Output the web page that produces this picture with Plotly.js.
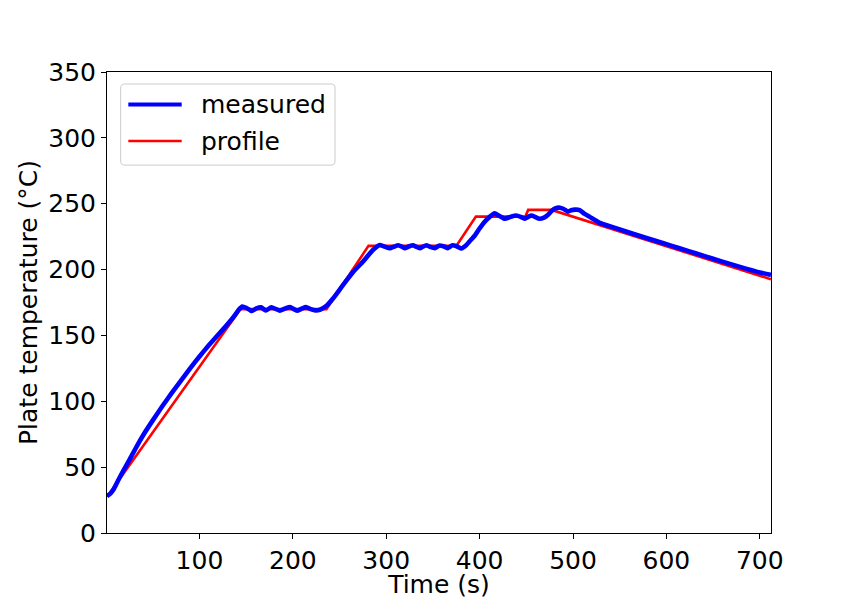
<!DOCTYPE html>
<html>
<head>
<meta charset="utf-8">
<script src="https://cdn.plot.ly/plotly-3.0.1.min.js"></script>
<style>html,body{margin:0;padding:0;background:#fff;}#chart{width:857px;height:599px;}</style>
</head>
<body>
<div id="chart"></div>
<script>
// ---- data ----
const timeMeasured = [1, 4, 8, 13, 19, 25, 33, 41, 50, 60, 70, 80, 90, 100, 110, 120, 130, 138, 142, 146, 150, 156, 161, 166, 171, 177, 182, 186, 192, 197, 201, 205, 210, 214, 219, 224, 229, 236, 243, 254, 265, 275, 286, 293, 298, 304, 308, 313, 317, 320, 324, 329, 332, 336, 339, 343, 347, 352, 357, 362, 366, 371, 376, 380.5, 385, 389, 395, 400, 405, 411, 416, 421, 427, 433, 439, 444, 448, 452, 455.5, 460, 464, 469, 473, 477, 481, 486, 490, 494.6, 498, 502, 507, 512, 518, 528.6, 540, 550, 565, 578.6, 596, 614, 632, 650, 668, 686, 700, 712];
const tempMeasured = [28, 29.5, 33, 40, 48, 55.5, 66, 75.7, 85.5, 96, 106, 115.5, 125, 134, 142.5, 150.5, 158.5, 165.5, 169.5, 172, 171, 168.5, 170.5, 171.3, 169, 171.3, 170, 168.8, 170.5, 171.5, 170, 168.8, 170.5, 171.5, 170, 169, 169.5, 172.5, 178, 188.5, 198.5, 206, 215, 218.7, 217.5, 216.2, 217.3, 218.5, 217.3, 216.2, 217.5, 218.5, 217.3, 216.2, 217.3, 218.5, 217.3, 216.3, 218.3, 217.5, 216.3, 218.5, 217.5, 216, 218, 221.2, 226, 231.3, 236, 240.2, 242.7, 240.8, 238.6, 240, 241, 240, 238.6, 240, 241, 239.8, 238.6, 239.5, 241.4, 244.5, 246.5, 247, 246, 244, 245, 245.5, 245.2, 242.5, 240, 235.5, 232.8, 230.5, 227, 224, 220.2, 216.2, 212.2, 208.2, 204.3, 200.5, 197.8, 195.9];
const timeProfile = [1, 144, 236, 281, 375, 396, 449, 452, 477, 712];
const tempProfile = [27.5, 170, 170, 218, 218, 240.2, 240.2, 245.3, 245.3, 192.6];
const xTicks = [100, 200, 300, 400, 500, 600, 700];
const yTicks = [0, 50, 100, 150, 200, 250, 300, 350];
const seriesNames = ["measured", "profile"];
const seriesColors = ["#0000ff", "#ff0000"];

// ---- chart ----
const traces = [
  {x: timeProfile, y: tempProfile, mode: "lines", name: seriesNames[1],
   line: {color: seriesColors[1], width: 2.6}, showlegend: false},
  {x: timeMeasured, y: tempMeasured, mode: "lines", name: seriesNames[0],
   line: {color: seriesColors[0], width: 4.6, shape: "spline", smoothing: 0.5}, showlegend: false}
];

// custom legend (matplotlib style) in paper coordinates
const lx0 = 0.0206, lx1 = 0.3434, ly0 = 0.798, ly1 = 0.974, rx = 0.006, ry = 0.0087;
const boxPath = `M ${lx0+rx},${ly0} L ${lx1-rx},${ly0} Q ${lx1},${ly0} ${lx1},${ly0+ry} L ${lx1},${ly1-ry} Q ${lx1},${ly1} ${lx1-rx},${ly1} L ${lx0+rx},${ly1} Q ${lx0},${ly1} ${lx0},${ly1-ry} L ${lx0},${ly0+ry} Q ${lx0},${ly0} ${lx0+rx},${ly0} Z`;
const legY = [0.9295, 0.8503];
const legWidths = [4.2, 2.6];
const shapes = [
  {type: "path", xref: "paper", yref: "paper", path: boxPath,
   fillcolor: "rgba(255,255,255,0.8)", line: {color: "#cccccc", width: 1}, layer: "above"}
];
const annotations = [];
for (let i = 0; i < 2; i++) {
  shapes.push({type: "line", xref: "paper", yref: "paper", x0: 0.0321, x1: 0.1125,
    y0: legY[i], y1: legY[i], line: {color: seriesColors[i], width: legWidths[i]}, layer: "above"});
  annotations.push({xref: "paper", yref: "paper", x: 0.138, y: legY[i], text: seriesNames[i],
    showarrow: false, xanchor: "left", yanchor: "middle", font: {size: 25, color: "#000"}});
}

const axisCommon = {
  showgrid: false, zeroline: false, showline: true, mirror: true,
  linecolor: "#000", linewidth: 1, ticks: "outside", ticklen: 5, tickwidth: 1,
  tickcolor: "#000", tickfont: {size: 25, color: "#000"}
};

const layout = {
  width: 857, height: 599,
  margin: {l: 107, r: 86, t: 72, b: 66, pad: 0},
  paper_bgcolor: "#fff", plot_bgcolor: "#fff",
  font: {family: "DejaVu Sans", size: 25, color: "#000"},
  showlegend: false,
  xaxis: Object.assign({}, axisCommon, {
    range: [1, 712], tickmode: "array", tickvals: xTicks, ticktext: xTicks.map(String),
    title: {text: "Time (s)", font: {size: 25}, standoff: 6}, automargin: false
  }),
  yaxis: Object.assign({}, axisCommon, {
    range: [0, 350], tickmode: "array", tickvals: yTicks, ticktext: yTicks.map(String),
    title: {text: "Plate temperature (°C)", font: {size: 25}, standoff: 3}, automargin: false
  }),
  shapes: shapes,
  annotations: annotations
};

Plotly.newPlot("chart", traces, layout, {staticPlot: true, displayModeBar: false});
</script>
</body>
</html>
